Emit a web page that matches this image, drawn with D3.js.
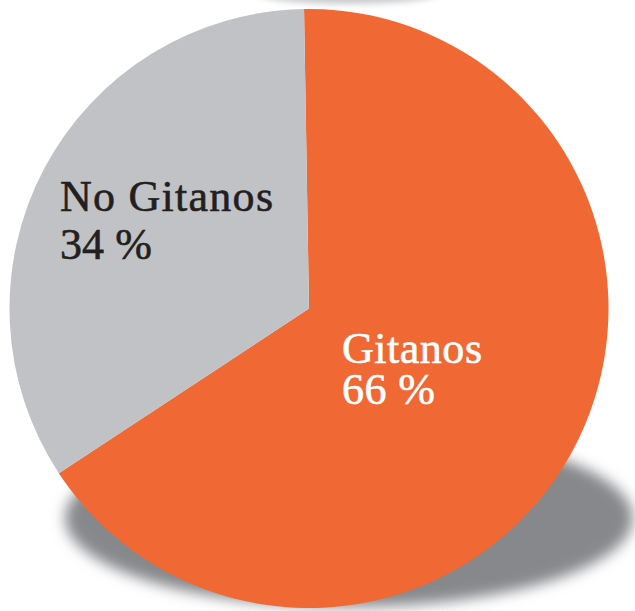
<!DOCTYPE html>
<html>
<head>
<meta charset="utf-8">
<script src="https://cdn.jsdelivr.net/npm/d3@7"></script>
<style>
html,body{margin:0;padding:0;background:#fff;}
svg{display:block;}
</style>
</head>
<body>
<svg id="chart" width="635" height="611"></svg>
<script>
const categories = ["Gitanos", "No Gitanos"];
const values = [66, 34];
const valueLabels = ["66 %", "34 %"];
const colors = ["#F06934", "#C1C2C5"];
const textColors = ["#ffffff", "#231F20"];

const svg = d3.select("#chart");
const cx = 309, cy = 308.5, r = 299.5;

const defs = svg.append("defs");
defs.append("filter").attr("id", "blur").attr("x", "-20%").attr("y", "-40%").attr("width", "140%").attr("height", "180%")
  .append("feGaussianBlur").attr("stdDeviation", 7);
defs.append("filter").attr("id", "blur2").attr("x", "-30%").attr("y", "-200%").attr("width", "160%").attr("height", "500%")
  .append("feGaussianBlur").attr("stdDeviation", 3);

// top faint shadow
svg.append("ellipse").attr("cx", 348).attr("cy", -6).attr("rx", 88).attr("ry", 10)
  .attr("fill", "#c9cacd").attr("filter", "url(#blur2)");

// bottom shadow
svg.append("ellipse").attr("cx", 349).attr("cy", 518).attr("rx", 284).attr("ry", 89)
  .attr("fill", "#87888C").attr("filter", "url(#blur)");

const offset = -0.0166;
const pie = d3.pie().sort(null).value(d => d)
  .startAngle(offset).endAngle(2 * Math.PI + offset);
const arcs = pie(values);
const arc = d3.arc().innerRadius(0).outerRadius(r);

const g = svg.append("g").attr("transform", `translate(${cx},${cy})`);
g.selectAll("path").data(arcs).enter().append("path")
  .attr("d", arc)
  .attr("fill", (d, i) => colors[i]);

// labels (one text element per slice, two lines)
const labelPos = [
  {x: 342, y: 363, gap: 41, w: 140, w2: 93},
  {x: 60, y: 211, gap: 48, w: 213, w2: 92}
];
categories.forEach((c, i) => {
  const p = labelPos[i];
  const t = svg.append("text")
    .attr("x", p.x).attr("y", p.y)
    .attr("font-family", "'Liberation Serif', 'DejaVu Serif', serif")
    .attr("font-size", 44)
    .attr("fill", textColors[i])
    .attr("stroke", textColors[i]).attr("stroke-width", 0.6);
  t.append("tspan").attr("x", p.x).attr("y", p.y)
    .attr("textLength", p.w).attr("lengthAdjust", "spacing")
    .text(c);
  t.append("tspan").attr("x", p.x).attr("y", p.y + p.gap)
    .attr("textLength", p.w2).attr("lengthAdjust", "spacing")
    .text(valueLabels[i]);
});
</script>
</body>
</html>
